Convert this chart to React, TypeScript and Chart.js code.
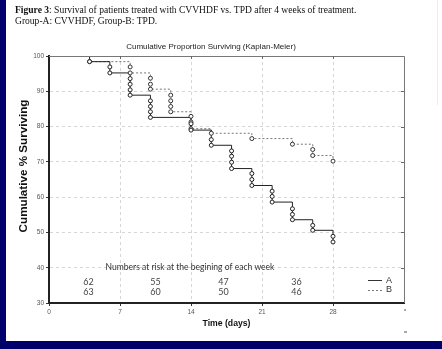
import React, { useEffect, useRef } from 'react';
import { Chart, registerables } from 'chart.js';
Chart.register(...registerables);

// Kaplan-Meier step curves (day, cumulative % surviving)
const timesA = [0, 4, 6, 8, 10, 14, 16, 18, 20, 22, 24, 26, 28];
const survA = [100, 98.4, 95.2, 88.9, 82.6, 79.0, 74.7, 68.1, 63.3, 58.6, 53.6, 50.6, 47.3];
const timesB = [0, 4, 8, 10, 12, 14, 16, 20, 24, 26, 28];
const survB = [100, 98.4, 95.2, 90.6, 84.2, 79.4, 78.1, 76.6, 75.0, 71.8, 70.2];

// event markers (circles)
const eventDaysA = [4, 6, 6, 8, 8, 8, 8, 10, 10, 10, 10, 14, 14, 16, 16, 18, 18, 18, 18, 20, 20, 20, 22, 22, 22, 24, 24, 24, 26, 26, 28, 28];
const eventSurvA = [98.4, 96.9, 95.2, 93.6, 92.0, 90.4, 88.9, 87.3, 85.7, 84.2, 82.6, 80.8, 79.0, 76.3, 74.7, 73.1, 71.6, 69.9, 68.1, 66.7, 65.0, 63.3, 61.7, 60.2, 58.6, 56.7, 55.1, 53.6, 52.0, 50.6, 48.9, 47.3];
const eventDaysB = [4, 8, 8, 10, 10, 10, 12, 12, 12, 12, 14, 14, 14, 16, 20, 24, 26, 26, 28];
const eventSurvB = [98.4, 96.9, 95.2, 93.7, 92.0, 90.6, 88.9, 87.3, 85.7, 84.2, 82.9, 81.3, 79.4, 78.1, 76.6, 75.0, 73.5, 71.8, 70.2];

// numbers at risk
const riskA = ['62', '55', '47', '36'];
const riskB = ['63', '60', '50', '46'];
const riskDays = [3.9, 10.5, 17.2, 24.4];

const xTickValues = [0, 7, 14, 21, 28];
const seriesLabels = ['A', 'B'];

const headerBold = 'Figure 3';
const headerRest = ': Survival of patients treated with CVVHDF vs. TPD after 4 weeks of treatment.';
const headerLine2 = 'Group-A: CVVHDF, Group-B: TPD.';
const chartTitle = 'Cumulative Proportion Surviving (Kaplan-Meier)';
const yTitle = 'Cumulative % Surviving';
const xTitle = 'Time (days)';
const riskTitle = 'Numbers at risk at the begining of each week';

const NAVY = '#00006a';
const SANS = '"Liberation Sans", Arial, sans-serif';
const SERIF = '"Liberation Serif", "Times New Roman", serif';
const CAL = 'Lato, "Liberation Sans", sans-serif';

function fitSize(ctx: CanvasRenderingContext2D, text: string, weight: string, family: string, target: number) {
  ctx.font = `${weight} 10px ${family}`;
  const w = ctx.measureText(text).width;
  return (10 * target) / w;
}

const decor = {
  id: 'decor',
  beforeDraw(chart: any) {
    const { ctx, width, height } = chart;
    ctx.save();
    ctx.fillStyle = '#ffffff';
    ctx.fillRect(0, 0, width, height);
    ctx.fillStyle = NAVY;
    ctx.fillRect(0, 0, 6, height);
    ctx.fillRect(0, 341, width, height - 341);
    ctx.strokeStyle = '#ececec';
    ctx.lineWidth = 1;
    ctx.beginPath();
    ctx.moveTo(437.5, 0);
    ctx.lineTo(437.5, 105);
    ctx.stroke();

    // header
    ctx.fillStyle = '#111';
    ctx.textBaseline = 'alphabetic';
    ctx.textAlign = 'left';
    ctx.font = `bold 10px ${SERIF}`;
    const wb = ctx.measureText(headerBold).width;
    ctx.font = `normal 10px ${SERIF}`;
    const wr = ctx.measureText(headerRest).width;
    const hs = (10 * 342) / (wb + wr);
    ctx.font = `bold ${hs}px ${SERIF}`;
    ctx.fillText(headerBold, 15, 12.5);
    const wb2 = ctx.measureText(headerBold).width;
    ctx.font = `normal ${hs}px ${SERIF}`;
    ctx.fillText(headerRest, 15 + wb2, 12.5);
    ctx.fillText(headerLine2, 15, 23.5);

    // chart title
    const ts = fitSize(ctx, chartTitle, 'normal', SANS, 170);
    ctx.font = `normal ${ts}px ${SANS}`;
    ctx.fillStyle = '#222';
    ctx.textAlign = 'center';
    ctx.textBaseline = 'middle';
    ctx.fillText(chartTitle, 211, 47);

    // y title
    const ys = fitSize(ctx, yTitle, 'bold', SANS, 133);
    ctx.save();
    ctx.translate(24, 166);
    ctx.rotate(-Math.PI / 2);
    ctx.font = `bold ${ys}px ${SANS}`;
    ctx.fillStyle = '#111';
    ctx.fillText(yTitle, 0, 0);
    ctx.restore();

    // x title
    const xs = fitSize(ctx, xTitle, 'bold', SANS, 48);
    ctx.font = `bold ${xs}px ${SANS}`;
    ctx.fillStyle = '#111';
    ctx.fillText(xTitle, (chart.chartArea.left + chart.chartArea.right) / 2, 324);

    // tiny marks at right
    ctx.fillStyle = '#555';
    ctx.fillRect(404, 309.5, 2, 1);
    ctx.fillRect(404, 331.5, 3, 1);
    ctx.restore();
  },
  afterDraw(chart: any) {
    const { ctx, chartArea: a, scales } = chart;
    const x = scales.x;
    const y = scales.y;
    ctx.save();
    // top & right frame
    ctx.strokeStyle = '#777';
    ctx.lineWidth = 1;
    ctx.beginPath();
    ctx.moveTo(a.left, a.top + 0.5);
    ctx.lineTo(a.right + 0.5, a.top + 0.5);
    ctx.lineTo(a.right + 0.5, a.bottom);
    ctx.stroke();
    // inner ticks on top and right
    ctx.strokeStyle = '#666';
    ctx.beginPath();
    for (const v of xTickValues.slice(1)) {
      const px = Math.round(x.getPixelForValue(v)) + 0.5;
      ctx.moveTo(px, a.top);
      ctx.lineTo(px, a.top + 3);
    }
    for (let v = 40; v < 100; v += 10) {
      const py = Math.round(y.getPixelForValue(v)) + 0.5;
      ctx.moveTo(a.right, py);
      ctx.lineTo(a.right - 3, py);
    }
    ctx.stroke();

    // numbers at risk
    const rs = fitSize(ctx, riskTitle, 'normal', CAL, 169);
    ctx.font = `normal ${rs}px ${CAL}`;
    ctx.fillStyle = '#333';
    ctx.textAlign = 'center';
    ctx.textBaseline = 'middle';
    ctx.fillText(riskTitle, x.getPixelForValue(13.9), y.getPixelForValue(40.2));
    ctx.font = `normal ${rs * 1.05}px ${CAL}`;
    ctx.fillStyle = '#444';
    riskDays.forEach((d, i) => {
      const px = x.getPixelForValue(d);
      ctx.fillText(riskA[i], px, y.getPixelForValue(36.0));
      ctx.fillText(riskB[i], px, y.getPixelForValue(33.2));
    });

    // legend
    const lx0 = a.right - 36;
    const lx1 = a.right - 22;
    const ly = [y.getPixelForValue(36.5), y.getPixelForValue(33.7)];
    ctx.lineWidth = 1;
    ctx.strokeStyle = '#333';
    ctx.setLineDash([]);
    ctx.beginPath();
    ctx.moveTo(lx0, Math.round(ly[0]) + 0.5);
    ctx.lineTo(lx1, Math.round(ly[0]) + 0.5);
    ctx.stroke();
    ctx.strokeStyle = '#777';
    ctx.setLineDash([2, 2]);
    ctx.beginPath();
    ctx.moveTo(lx0, Math.round(ly[1]) + 0.5);
    ctx.lineTo(lx1, Math.round(ly[1]) + 0.5);
    ctx.stroke();
    ctx.setLineDash([]);
    ctx.font = `normal 9px ${SANS}`;
    ctx.fillStyle = '#333';
    ctx.textAlign = 'left';
    ctx.fillText(seriesLabels[0], a.right - 18, ly[0]);
    ctx.fillText(seriesLabels[1], a.right - 18, ly[1]);
    ctx.restore();
  },
};

export default function App() {
  const ref = useRef<HTMLCanvasElement>(null);
  useEffect(() => {
    const toPts = (xs: number[], ys: number[]) => xs.map((t, i) => ({ x: t, y: ys[i] }));
    const chart = new Chart(ref.current as HTMLCanvasElement, {
      type: 'line',
      data: {
        datasets: [
          {
            label: 'A events',
            data: toPts(eventDaysA, eventSurvA),
            showLine: false,
            pointRadius: 2,
            pointBorderWidth: 1,
            pointBackgroundColor: '#ffffff',
            pointBorderColor: '#222',
          },
          {
            label: 'B events',
            data: toPts(eventDaysB, eventSurvB),
            showLine: false,
            pointRadius: 2,
            pointBorderWidth: 1,
            pointBackgroundColor: '#ffffff',
            pointBorderColor: '#333',
          },
          {
            label: seriesLabels[0],
            data: toPts(timesA, survA),
            stepped: true,
            borderColor: '#222',
            borderWidth: 1,
            pointRadius: 0,
            fill: false,
          },
          {
            label: seriesLabels[1],
            data: toPts(timesB, survB),
            stepped: true,
            borderColor: '#777',
            borderWidth: 1,
            borderDash: [2, 2],
            pointRadius: 0,
            fill: false,
          },
        ],
      },
      options: {
        animation: false,
        responsive: false,
        devicePixelRatio: 1,
        layout: { padding: { top: 56, right: 38, bottom: 0, left: 0 } },
        plugins: { legend: { display: false }, tooltip: { enabled: false }, title: { display: false } },
        scales: {
          x: {
            type: 'linear',
            min: 0,
            max: 35,
            afterBuildTicks: (s: any) => {
              s.ticks = xTickValues.map((v) => ({ value: v }));
            },
            afterFit: (s: any) => {
              s.height = 46;
            },
            grid: { color: '#d6d6d6', drawTicks: true, tickLength: 3, tickColor: '#333', lineWidth: 1 },
            border: { color: '#222', width: 2, dash: [3, 3] },
            ticks: { font: { size: 6.5, family: SANS }, color: '#555', padding: 2, maxRotation: 0 },
          },
          y: {
            type: 'linear',
            min: 30,
            max: 100,
            afterFit: (s: any) => {
              s.width = 49;
            },
            grid: { color: '#d6d6d6', drawTicks: true, tickLength: 3, tickColor: '#333', lineWidth: 1 },
            border: { color: '#222', width: 2, dash: [3, 3] },
            ticks: { stepSize: 10, font: { size: 6.5, family: SANS }, color: '#555', padding: 2 },
          },
        },
      } as any,
      plugins: [decor],
    });
    return () => chart.destroy();
  }, []);
  return (
    <div style={{ position: 'absolute', left: 0, top: 0, width: 442, height: 349 }}>
      <canvas ref={ref} width={442} height={349} style={{ display: 'block', width: 442, height: 349 }} />
    </div>
  );
}
